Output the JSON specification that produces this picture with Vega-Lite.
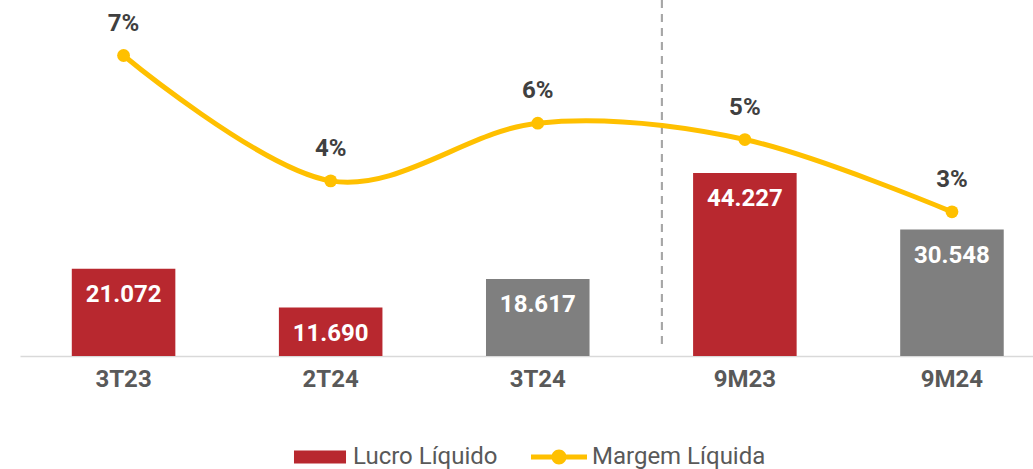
{
  "$schema": "https://vega.github.io/schema/vega-lite/v6.json",
  "width": 1013,
  "height": 356,
  "autosize": {"type": "none"},
  "padding": {"left": 20, "top": 0, "right": 0, "bottom": 113},
  "background": "white",
  "config": {
    "view": {"stroke": null},
    "font": "Roboto"
  },
  "data": {
    "values": [
      {"periodo": "3T23", "lucro": 21.072, "margem": 0.0744},
      {"periodo": "2T24", "lucro": 11.690, "margem": 0.0392},
      {"periodo": "3T24", "lucro": 18.617, "margem": 0.0554},
      {"periodo": "9M23", "lucro": 44.227, "margem": 0.0508},
      {"periodo": "9M24", "lucro": 30.548, "margem": 0.0305}
    ]
  },
  "encoding": {
    "x": {
      "field": "periodo",
      "type": "nominal",
      "sort": null,
      "scale": {"paddingInner": 0.5, "paddingOuter": 0.1957, "align": 0.639},
      "axis": {
        "title": null,
        "ticks": false,
        "labelAngle": 0,
        "labelFont": "Roboto",
        "labelFontSize": 24,
        "labelFontWeight": "bold",
        "labelColor": "#595959",
        "labelPadding": 11,
        "domainColor": "#D9D9D9",
        "domainWidth": 1.5,
        "grid": false
      }
    }
  },
  "layer": [
    {
      "encoding": {
        "y": {
          "field": "lucro",
          "type": "quantitative",
          "scale": {"domain": [0, 86], "nice": false, "zero": true},
          "axis": null
        }
      },
      "layer": [
        {
          "mark": {"type": "bar"},
          "encoding": {
            "color": {
              "condition": {"test": "datum.periodo === '3T24' || datum.periodo === '9M24'", "value": "#7F7F7F"},
              "datum": "Lucro Líquido",
              "type": "nominal",
              "scale": {"domain": ["Lucro Líquido", "Margem Líquida"], "range": ["#B8282F", "#FFC000"]},
              "legend": {
                "orient": "none",
                "legendX": 272,
                "legendY": 429,
                "direction": "horizontal",
                "title": null,
                "labelFont": "Roboto",
                "labelFontSize": 24,
                "labelColor": "#595959",
                "labelLimit": 400,
                "symbolSize": 3136,
                "labelOffset": 5,
                "columnPadding": 33,
                "symbolStrokeWidth": 0,
                "encode": {
                  "symbols": {
                    "update": {
                      "shape": {"signal": "datum.value === 'Lucro Líquido' ? 'M-0.929,-0.232H0.929V0.232H-0.929Z' : 'M-1,-0.093H1V0.093H-1Z M0.268,0A0.268,0.268 0 1,1 -0.268,0A0.268,0.268 0 1,1 0.268,0Z'"},
                      "fill": {"scale": "color", "field": "value"},
                      "fillOpacity": {"value": 1},
                      "opacity": {"value": 1},
                      "strokeWidth": {"value": 0}
                    }
                  }
                }
              }
            }
          }
        },
        {
          "mark": {"type": "text", "baseline": "middle", "dy": 26, "color": "white", "font": "Roboto", "fontWeight": "bold", "fontSize": 24},
          "encoding": {
            "text": {"field": "lucro", "type": "quantitative", "format": ".3f"}
          }
        },
        {
          "mark": {"type": "rule", "strokeDash": [8, 6], "color": "#A6A6A6", "strokeWidth": 1.5},
          "encoding": {
            "x": {"datum": "9M23", "bandPosition": -0.303},
            "y": {"datum": 86},
            "y2": {"datum": 2.5}
          }
        }
      ]
    },
    {
      "encoding": {
        "y": {
          "field": "margem",
          "type": "quantitative",
          "scale": {"domain": [-0.01, 0.09], "nice": false, "zero": false},
          "axis": null
        }
      },
      "layer": [
        {
          "mark": {"type": "line", "interpolate": "cardinal", "strokeWidth": 5, "point": {"filled": true, "size": 165, "opacity": 1}},
          "encoding": {
            "color": {"datum": "Margem Líquida", "type": "nominal"}
          }
        },
        {
          "mark": {"type": "text", "baseline": "middle", "dy": -32, "color": "#404040", "font": "Roboto", "fontWeight": "bold", "fontSize": 24},
          "encoding": {
            "text": {"field": "margem", "type": "quantitative", "format": ".0%"}
          }
        }
      ]
    }
  ],
  "resolve": {"scale": {"y": "independent"}}
}
